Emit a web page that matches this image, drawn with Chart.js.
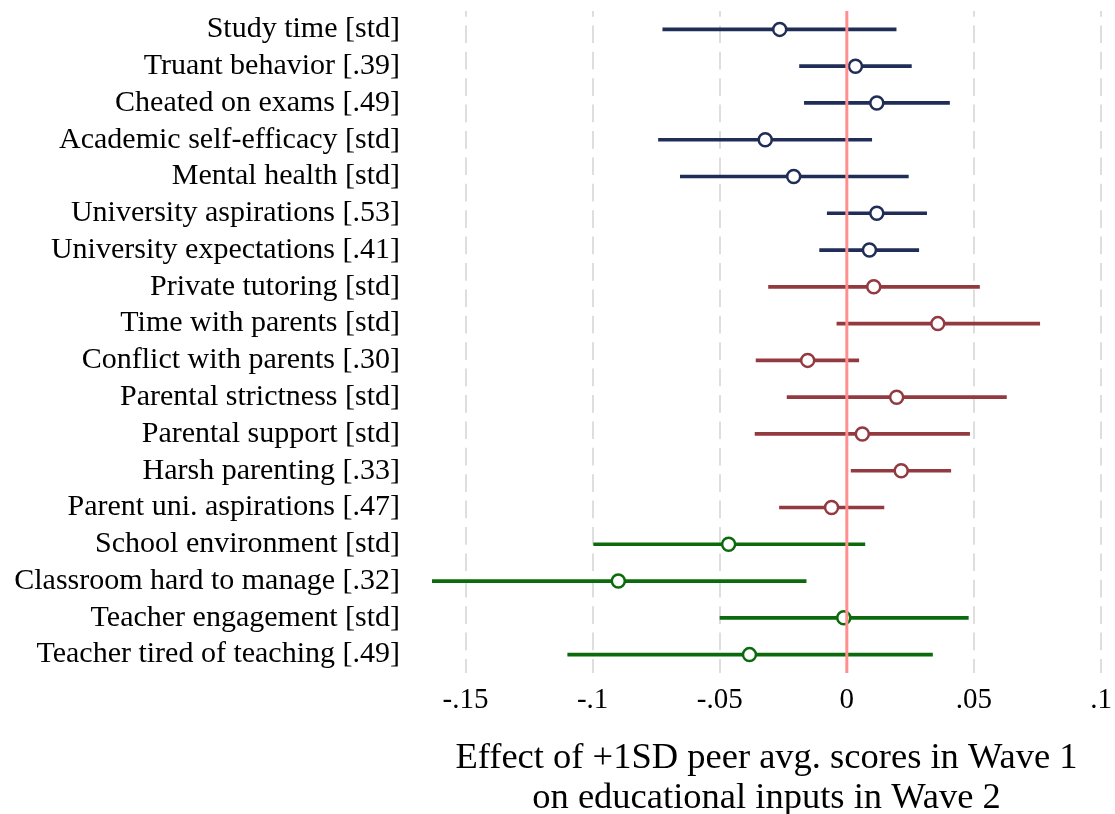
<!DOCTYPE html>
<html>
<head>
<meta charset="utf-8">
<script src="https://cdn.jsdelivr.net/npm/chart.js@4/dist/chart.umd.min.js"></script>
<style>
  html, body { margin: 0; padding: 0; background: #fff; }
  #wrap { width: 1115px; height: 814px; }
</style>
</head>
<body>
<div id="wrap"><canvas id="myChart" width="1115" height="814"></canvas></div>
<script>
// outcomes, top to bottom
var labels = [
    'Study time [std]',
    'Truant behavior [.39]',
    'Cheated on exams [.49]',
    'Academic self-efficacy [std]',
    'Mental health [std]',
    'University aspirations [.53]',
    'University expectations [.41]',
    'Private tutoring [std]',
    'Time with parents [std]',
    'Conflict with parents [.30]',
    'Parental strictness [std]',
    'Parental support [std]',
    'Harsh parenting [.33]',
    'Parent uni. aspirations [.47]',
    'School environment [std]',
    'Classroom hard to manage [.32]',
    'Teacher engagement [std]',
    'Teacher tired of teaching [.49]'
];

// group of each outcome: student / parent / school
var groups = ['s','s','s','s','s','s','s','p','p','p','p','p','p','p','t','t','t','t'];

var estimates = [-0.0264, 0.0034, 0.0118, -0.0321, -0.0209, 0.0118, 0.0089,
                 0.0106, 0.0358, -0.0154, 0.0196, 0.0061, 0.0214, -0.0060,
                 -0.0465, -0.0899, -0.0012, -0.0383];
var ciLow = [-0.0724, -0.0186, -0.0167, -0.0741, -0.0655, -0.0077, -0.0107,
             -0.0308, -0.0039, -0.0357, -0.0235, -0.0361, 0.0017, -0.0265,
             -0.0996, -0.1632, -0.0499, -0.1098];
var ciHigh = [0.0194, 0.0254, 0.0404, 0.0098, 0.0242, 0.0314, 0.0283,
              0.0522, 0.0759, 0.0047, 0.0628, 0.0483, 0.0409, 0.0146,
              0.0071, -0.0160, 0.0478, 0.0337];

var xTicks = [-0.15, -0.1, -0.05, 0, 0.05, 0.1];
var xTickLabels = ['-.15', '-.1', '-.05', '0', '.05', '.1'];

var groupColors = { s: '#1f2d57', p: '#923a40', t: '#0b6a0b' };
var colors = groups.map(function (g) { return groupColors[g]; });

var serif = "'Liberation Serif', 'Times New Roman', serif";

// red reference line at zero, drawn over the marks like in the original
var zeroLine = {
    id: 'zeroLine',
    afterDatasetsDraw: function (chart) {
        var ctx = chart.ctx;
        var x = chart.scales.x.getPixelForValue(0);
        ctx.save();
        ctx.strokeStyle = '#ff8f8f';
        ctx.lineWidth = 3;
        ctx.beginPath();
        ctx.moveTo(x, chart.chartArea.top);
        ctx.lineTo(x, chart.chartArea.bottom);
        ctx.stroke();
        ctx.restore();
    }
};

var ctx = document.getElementById('myChart').getContext('2d');
var myChart = new Chart(ctx, {
    type: 'bar',
    data: {
        labels: labels,
        datasets: [
            {
                type: 'line',
                indexAxis: 'y',
                data: estimates,
                showLine: false,
                pointRadius: 6.5,
                pointBorderWidth: 2.5,
                pointBackgroundColor: '#ffffff',
                pointBorderColor: colors,
                order: 0
            },
            {
                data: ciLow.map(function (l, i) { return [l, ciHigh[i]]; }),
                backgroundColor: colors,
                borderWidth: 0,
                barThickness: 3,
                borderSkipped: false,
                order: 1
            }
        ]
    },
    options: {
        indexAxis: 'y',
        responsive: false,
        animation: false,
        layout: { padding: { top: 11, right: 14, left: 0, bottom: 0 } },
        plugins: {
            legend: { display: false },
            tooltip: { enabled: false }
        },
        scales: {
            x: {
                type: 'linear',
                min: Math.min.apply(null, ciLow),
                max: xTicks[xTicks.length - 1],
                afterBuildTicks: function (scale) {
                    scale.ticks = xTicks.map(function (v) { return { value: v }; });
                },
                afterFit: function (scale) {
                    scale.height = 141;
                    scale.paddingLeft = 0;
                    scale.paddingRight = 0;
                },
                grid: { color: '#dedede', lineWidth: 2, drawTicks: false },
                border: { display: false, dash: [17.7, 8.7], dashOffset: 12 },
                ticks: {
                    padding: 10,
                    color: '#000',
                    maxRotation: 0,
                    autoSkip: false,
                    font: { family: serif, size: 29 },
                    callback: function (value, index) { return xTickLabels[index]; }
                },
                title: {
                    display: true,
                    text: ['Effect of +1SD peer avg. scores in Wave 1', 'on educational inputs in Wave 2'],
                    color: '#000',
                    font: { family: serif, size: 36.5, lineHeight: 1.08 },
                    padding: { top: 0, bottom: -4 }
                }
            },
            y: {
                type: 'category',
                offset: true,
                afterFit: function (scale) {
                    scale.width = 432;
                    scale.paddingTop = 0;
                    scale.paddingBottom = 0;
                },
                grid: { display: false, drawTicks: false },
                border: { display: false },
                ticks: {
                    padding: 32,
                    color: '#000',
                    autoSkip: false,
                    font: { family: serif, size: 30 }
                }
            }
        }
    },
    plugins: [zeroLine]
});
</script>
</body>
</html>
